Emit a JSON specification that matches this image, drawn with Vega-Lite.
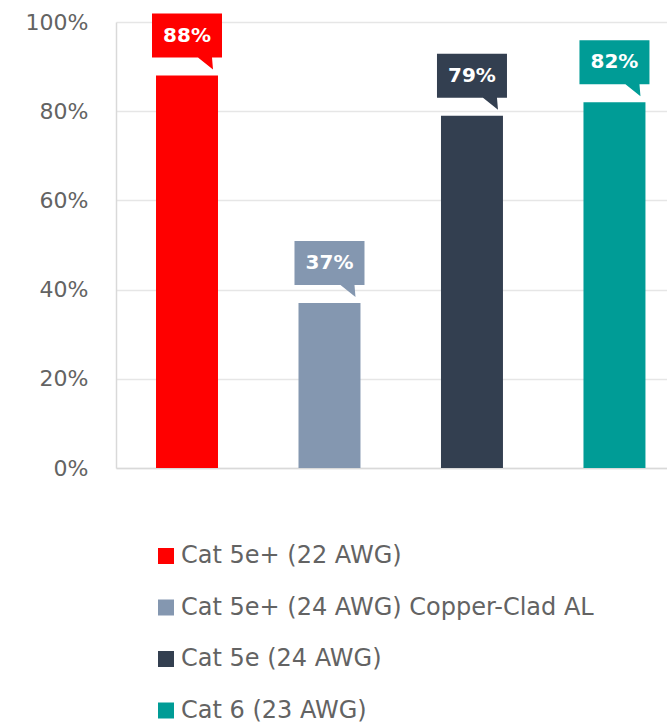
{
  "$schema": "https://vega.github.io/schema/vega-lite/v6.json",
  "autosize": {"type": "none"},
  "width": 551,
  "height": 446,
  "padding": {"left": 116, "top": 22, "right": 0, "bottom": 258},
  "background": "white",
  "config": {
    "view": {"stroke": null},
    "font": "DejaVu Sans"
  },
  "data": {
    "values": [
      {"cable": "Cat 5e+ (22 AWG)", "pct": 0.88},
      {"cable": "Cat 5e+ (24 AWG) Copper-Clad AL", "pct": 0.37},
      {"cable": "Cat 5e (24 AWG)", "pct": 0.79},
      {"cable": "Cat 6 (23 AWG)", "pct": 0.82}
    ]
  },
  "encoding": {
    "x": {
      "field": "cable",
      "type": "nominal",
      "sort": null,
      "scale": {"paddingInner": 0.565, "paddingOuter": 0.216, "align": 0.65},
      "axis": {"labels": false, "ticks": false, "title": null, "domain": true, "domainColor": "#D9D9D9", "domainWidth": 1.5}
    },
    "y": {
      "field": "pct",
      "type": "quantitative",
      "scale": {"domain": [0, 1], "nice": false},
      "axis": {
        "values": [0, 0.2, 0.4, 0.6, 0.8, 1],
        "format": ".0%",
        "title": null,
        "ticks": false,
        "labelPadding": 28,
        "labelFontSize": 22,
        "labelColor": "#636363",
        "gridColor": "#E6E6E6",
        "gridWidth": 1.5,
        "domainColor": "#D9D9D9",
        "domainWidth": 1.5
      }
    },
    "color": {
      "field": "cable",
      "type": "nominal",
      "scale": {
        "domain": ["Cat 5e+ (22 AWG)", "Cat 5e+ (24 AWG) Copper-Clad AL", "Cat 5e (24 AWG)", "Cat 6 (23 AWG)"],
        "range": ["#FF0000", "#8497B0", "#333F50", "#009C96"]
      },
      "legend": {
        "title": null,
        "orient": "none",
        "legendX": 38,
        "legendY": 522,
        "direction": "vertical",
        "symbolType": "square",
        "symbolSize": 256,
        "symbolStrokeWidth": 0,
        "symbolOpacity": 1,
        "labelFontSize": 24,
        "labelColor": "#636363",
        "labelOffset": 3,
        "rowPadding": 27.5,
        "labelLimit": 600
      }
    }
  },
  "layer": [
    {"mark": {"type": "bar"}},
    {
      "mark": {
        "type": "point",
        "shape": "M-35,-62L35,-62L35,-18L25,-18L26,-6L11,-18L-35,-18Z",
        "size": 4,
        "filled": true,
        "opacity": 1,
        "strokeWidth": 0
      }
    },
    {
      "mark": {"type": "text", "dy": -40, "color": "white", "fontSize": 20, "fontWeight": "bold", "baseline": "middle", "align": "center"},
      "encoding": {
        "text": {"field": "pct", "type": "quantitative", "format": ".0%"},
        "color": {"value": "white"}
      }
    }
  ]
}
